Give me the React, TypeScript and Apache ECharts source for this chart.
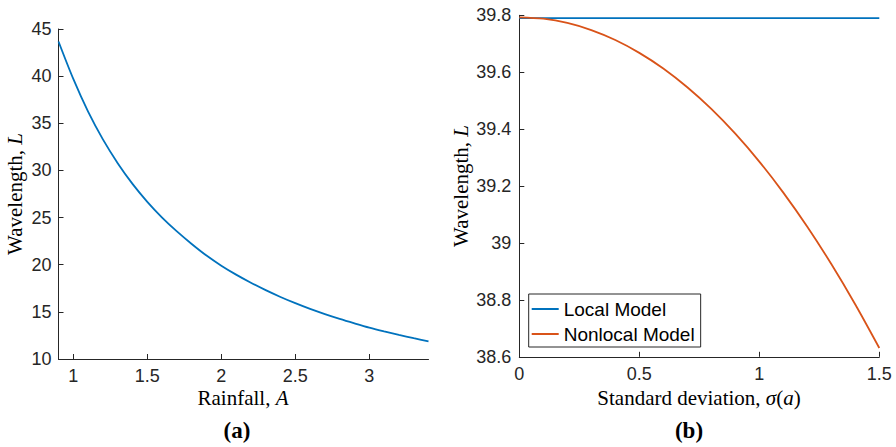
import React, { useEffect, useRef } from "react";
import * as echarts from "echarts";

// Panel (a): wavelength vs rainfall
const rainfall = [0.9, 1.0, 1.1, 1.2, 1.3, 1.4, 1.5, 1.6, 1.7, 1.8, 1.9, 2.0, 2.1, 2.2, 2.3, 2.4, 2.5, 2.6, 2.7, 2.8, 2.9, 3.0, 3.1, 3.2, 3.3, 3.4];
const wavelengthA = [43.67, 39.7, 36.23, 33.29, 30.77, 28.57, 26.67, 25.0, 23.53, 22.2, 20.97, 19.9, 18.95, 18.09, 17.3, 16.58, 15.92, 15.31, 14.76, 14.25, 13.78, 13.33, 12.93, 12.56, 12.21, 11.88];

// Panel (b): wavelength vs standard deviation
const sigma = [0, 0.1, 0.2, 0.3, 0.4, 0.5, 0.6, 0.7, 0.8, 0.9, 1.0, 1.1, 1.2, 1.3, 1.4, 1.5];
const localModel = [39.79, 39.79, 39.79, 39.79, 39.79, 39.79, 39.79, 39.79, 39.79, 39.79, 39.79, 39.79, 39.79, 39.79, 39.79, 39.79];
const nonlocalModel = [39.793, 39.788, 39.773, 39.748, 39.713, 39.668, 39.613, 39.547, 39.471, 39.384, 39.286, 39.177, 39.057, 38.926, 38.784, 38.631];

const xTicksA = [1, 1.5, 2, 2.5, 3];

const AXIS = "#262626";
const BLUE = "#0072BD";
const ORANGE = "#D95319";
const SANS = "'Liberation Sans', Arial, sans-serif";
const SERIF = "'Liberation Serif', 'Times New Roman', serif";

export default function App() {
  const ref = useRef<HTMLDivElement>(null);
  useEffect(() => {
    document.body.style.margin = "0";
    const chart = echarts.init(ref.current!, null, { renderer: "svg" });
    const tickLabel = { color: AXIS, fontSize: 18, fontFamily: SANS };
    const axisCommon = {
      axisLine: { show: true, onZero: false, lineStyle: { color: AXIS, width: 1 } },
      axisTick: { show: true, inside: true, length: 5, lineStyle: { color: AXIS, width: 1 } },
      splitLine: { show: false },
    };
    const serifRich = {
      r: { fontFamily: SERIF, fontSize: 21, color: AXIS },
      i: { fontFamily: SERIF, fontSize: 21, color: AXIS, fontStyle: "italic" },
    };
    chart.setOption({
      animation: false,
      grid: [
        { left: 58.5, top: 29, width: 370, height: 330 },
        { left: 519.3, top: 15.3, width: 360, height: 341.5 },
      ],
      xAxis: [
        {
          gridIndex: 0, type: "value", min: 0.9, max: 3.4,
          ...axisCommon,
          axisTick: { ...axisCommon.axisTick, customValues: xTicksA },
          axisLabel: { ...tickLabel, margin: 8, customValues: xTicksA },
        },
        {
          gridIndex: 1, type: "value", min: 0, max: 1.5, interval: 0.5,
          ...axisCommon,
          axisLabel: { ...tickLabel, margin: 8, showMaxLabel: true },
        },
      ],
      yAxis: [
        {
          gridIndex: 0, type: "value", min: 10, max: 45, interval: 5,
          ...axisCommon,
          axisLabel: { ...tickLabel, margin: 7 },
        },
        {
          gridIndex: 1, type: "value", min: 38.6, max: 39.8, interval: 0.2,
          ...axisCommon,
          axisLabel: { ...tickLabel, margin: 8 },
        },
      ],
      legend: {
        data: ["Local Model", "Nonlocal Model"],
        orient: "vertical",
        left: 528.7,
        top: 294,
        backgroundColor: "#ffffff",
        borderColor: AXIS,
        borderWidth: 1,
        borderRadius: 0,
        padding: [5, 6, 3, 3],
        itemGap: 5,
        itemWidth: 27,
        itemHeight: 2,
        icon: "rect",
        textStyle: { fontSize: 19, fontFamily: SANS, color: "#000", lineHeight: 20 },
      },
      series: [
        {
          name: "Wavelength", type: "line", xAxisIndex: 0, yAxisIndex: 0,
          data: rainfall.map((a, k) => [a, wavelengthA[k]]),
          smooth: 0.3, showSymbol: false, lineStyle: { color: BLUE, width: 1.8 }, itemStyle: { color: BLUE },
        },
        {
          name: "Local Model", type: "line", xAxisIndex: 1, yAxisIndex: 1,
          data: sigma.map((s, k) => [s, localModel[k]]),
          showSymbol: false, lineStyle: { color: BLUE, width: 1.8 }, itemStyle: { color: BLUE },
        },
        {
          name: "Nonlocal Model", type: "line", xAxisIndex: 1, yAxisIndex: 1,
          data: sigma.map((s, k) => [s, nonlocalModel[k]]),
          smooth: 0.3, showSymbol: false, lineStyle: { color: ORANGE, width: 1.8 }, itemStyle: { color: ORANGE },
        },
      ],
      graphic: [
        {
          type: "text", x: 15, y: 194, rotation: Math.PI / 2,
          style: { text: "{r|Wavelength, }{i|L}", rich: serifRich, align: "center", verticalAlign: "middle" },
        },
        {
          type: "text", x: 243, y: 398,
          style: { text: "{r|Rainfall, }{i|A}", rich: serifRich, align: "center", verticalAlign: "middle" },
        },
        {
          type: "text", x: 237, y: 430,
          style: { text: "(a)", font: `bold 23px ${SERIF}`, fill: "#000", align: "center", verticalAlign: "middle" },
        },
        {
          type: "text", x: 461, y: 186, rotation: Math.PI / 2,
          style: { text: "{r|Wavelength, }{i|L}", rich: serifRich, align: "center", verticalAlign: "middle" },
        },
        {
          type: "text", x: 699, y: 398,
          style: { text: "{r|Standard deviation, }{i|σ}{r|(}{i|a}{r|)}", rich: serifRich, align: "center", verticalAlign: "middle" },
        },
        {
          type: "text", x: 689, y: 430,
          style: { text: "(b)", font: `bold 23px ${SERIF}`, fill: "#000", align: "center", verticalAlign: "middle" },
        },
      ],
    });
    return () => chart.dispose();
  }, []);
  return <div ref={ref} style={{ width: 896, height: 447 }} />;
}
